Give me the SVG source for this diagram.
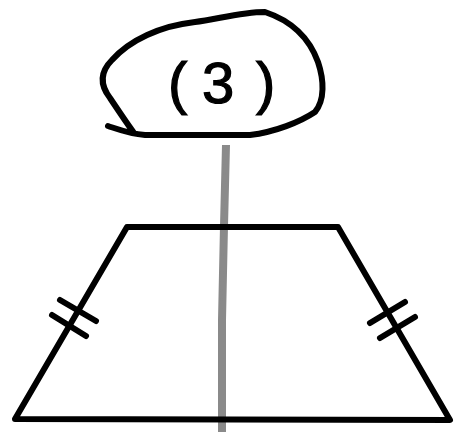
<svg xmlns="http://www.w3.org/2000/svg" width="456" height="432" viewBox="0 0 456 432">
<style>
.ink{fill:none;stroke:#000;stroke-width:6;stroke-linecap:round;stroke-linejoin:round}
.pencil{fill:none;stroke:#8a8a8a;stroke-linecap:butt}
.lbl{font-family:"Liberation Sans",Arial,sans-serif;font-size:58px;fill:#000;stroke:#000;stroke-width:1.2}
</style>
<rect width="456" height="432" fill="#fff"/>
<g id="axis">
<path class="pencil" stroke-width="8" d="M226,145 L224,226 L222,320 L222,432"/>
<path class="pencil" stroke="#4a4a4a" stroke-width="2.5" stroke-dasharray="3 2 1 3" d="M225,145 L223,226 L221,320 L221,432"/>
<path class="pencil" stroke="#fff" stroke-width="1" stroke-dasharray="1 4 2 5" d="M227.5,150 L225.5,226 L223.5,320 L223.5,430"/>
</g>
<g id="label-3">
<path class="ink" stroke-width="6.5" d="M108,126 C120,130 130,134 145,135 L250,135 C275,132 300,122 315,112 C325,100 324,80 318,62 C310,40 295,22 265,12 C240,12 215,20 195,22 C160,26 130,40 112,60 C100,72 100,85 110,98 C118,110 126,122 134,133"/>
<text class="lbl" x="168 202 256" y="103">(3)</text>
</g>
<g id="trapezoid">
<polygon class="ink" stroke-linejoin="miter" points="127,227 338,227 450,420 15,419"/>
<path class="ink" stroke-linecap="butt" d="M60,300 L96,321 M52,315 L86,336 M370,323 L405,302 M380,338 L415,317"/>
</g>
</svg>
